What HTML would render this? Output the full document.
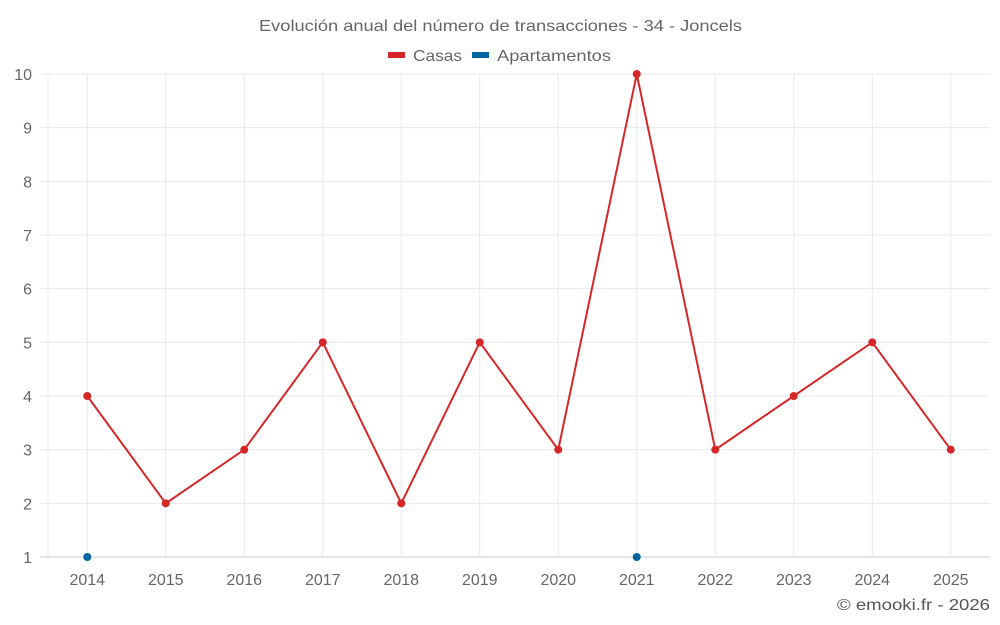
<!DOCTYPE html>
<html><head><meta charset="utf-8">
<style>
html,body{margin:0;padding:0;background:#fff;}
svg{display:block;font-family:"Liberation Sans",sans-serif;}
</style></head>
<body>
<svg id="chart" width="1000" height="625">
<text x="259" y="31" textLength="483" lengthAdjust="spacingAndGlyphs" font-size="16" fill="#666">Evolución anual del número de transacciones - 34 - Joncels</text>
<g>
<g>
<rect x="388" y="52" width="17" height="6" fill="#d62728"/>
<text x="413" y="61" textLength="49" lengthAdjust="spacingAndGlyphs" font-size="16" fill="#666">Casas</text></g>
<g>
<rect x="472" y="52" width="17" height="6" fill="#0066a0"/>
<text x="497" y="61" textLength="114" lengthAdjust="spacingAndGlyphs" font-size="16" fill="#666">Apartamentos</text></g>
</g>
<g id="grid"></g>
<g id="axes"></g>
<g id="series"></g>
<text x="837" y="610" textLength="153" lengthAdjust="spacingAndGlyphs" font-size="16" fill="#555">© emooki.fr - 2026</text>
</svg>
<script>
const years = ["2014","2015","2016","2017","2018","2019","2020","2021","2022","2023","2024","2025"];
const casas = [4,2,3,5,2,5,3,10,3,4,5,3];
const apartamentos = [1,null,null,null,null,null,null,1,null,null,null,null];
const yTicks = [1,2,3,4,5,6,7,8,9,10];

const NS="http://www.w3.org/2000/svg";
const L=48,R=990,T=74,B=557,yMin=1,yMax=10;
const band=(R-L)/years.length;
const xs=i=>L+band*(i+0.5);
const ys=v=>B-(v-yMin)/(yMax-yMin)*(B-T);
function mk(tag,attrs,parent){const e=document.createElementNS(NS,tag);for(const k in attrs)e.setAttribute(k,attrs[k]);parent.appendChild(e);return e;}
const grid=document.getElementById('grid'),axes=document.getElementById('axes'),series=document.getElementById('series');
yTicks.forEach(v=>{
  const y=ys(v);
  const ln=mk('line',{x1:40,x2:R,y1:y,y2:y,stroke:v===yMin?'#ccc':'#e8e8e8','stroke-width':1},grid);
  
  
  const t=mk('text',{x:32,y:y+6,'text-anchor':'end','font-size':16,fill:'#666'},axes);
  t.textContent=v;
  
  
});
const v0=mk('line',{x1:L,x2:L,y1:T,y2:B,stroke:'#e8e8e8'},grid);


years.forEach((yr,i)=>{
  const x=xs(i);
  const g=mk('line',{x1:x,x2:x,y1:T,y2:B,stroke:'#e8e8e8'},grid);
  
  
  const t=mk('text',{x:x,y:585,'text-anchor':'middle','font-size':16,fill:'#666'},axes);
  t.textContent=yr;
  
  
});
let d='';
casas.forEach((v,i)=>{if(v!=null)d+=(d?'L':'M')+xs(i)+' '+ys(v);});
const path=mk('path',{d:d,fill:'none',stroke:'#d62728','stroke-width':2},series);


casas.forEach((v,i)=>{if(v==null)return;
  const c=mk('circle',{cx:xs(i),cy:ys(v),r:4,fill:'#d62728'},series);
  
  
});
apartamentos.forEach((v,i)=>{if(v==null)return;
  const c=mk('circle',{cx:xs(i),cy:ys(v),r:4,fill:'#0066a0'},series);
  
  
});
</script>
</body></html>
